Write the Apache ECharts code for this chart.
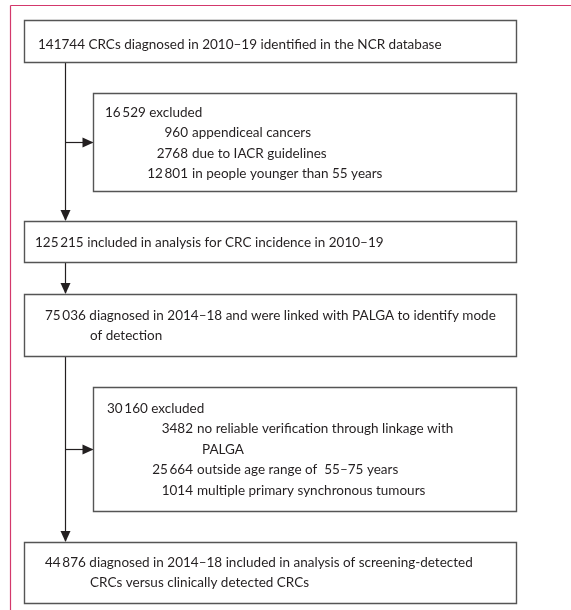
<!DOCTYPE html>
<html>
<head>
<meta charset="utf-8">
<script src="https://cdn.jsdelivr.net/npm/echarts@6/dist/echarts.min.js"></script>
<style>
  html, body { margin: 0; padding: 0; background: #fff; }
  #main { width: 571px; height: 610px; }
</style>
</head>
<body>
<div id="main"></div>
<script>
// flow boxes (main path), one entry per line
const mainSteps = [
  ['141744 CRCs diagnosed in 2010–19 identified in the NCR database'],
  ['125\u2009215 included in analysis for CRC incidence in 2010–19'],
  ['75\u2009036 diagnosed in 2014–18 and were linked with PALGA to identify mode', 'of detection'],
  ['44\u2009876 diagnosed in 2014–18 included in analysis of screening-detected', 'CRCs versus clinically detected CRCs']
];
// exclusion boxes
const excludedTotals = ['16\u2009529 excluded', '30\u2009160 excluded'];
const excludedCounts1 = ['960', '2768', '12\u2009801'];
const excludedReasons1 = [['appendiceal cancers'], ['due to IACR guidelines'], ['in people younger than 55 years']];
const excludedCounts2 = ['3482', '25\u2009664', '1014'];
const excludedReasons2 = [['no reliable verification through linkage with', 'PALGA'], ['outside age range of  55–75 years'], ['multiple primary synchronous tumours']];

const FONT = 'Lato, sans-serif';
const FS = 14;
const SX = 0.965; // narrow the face a bit, the original uses a condensed font
const LH = 20.5;
const INK = '#231f20';
const BOX = '#555555';

// layout
const mainBox = [
  { y: 20, h: 42, tx: 38, ty: 44.5, indent: 0 },
  { y: 221, h: 41, tx: 35, ty: 242, indent: 0 },
  { y: 294, h: 62, tx: 45, ty: 315, indent: 45 },
  { y: 542, h: 61, tx: 45, ty: 562, indent: 45 }
];
const exBox = [
  { y: 93, h: 98, tx: 105, ty: 112, numRight: 188, arrowY: 142, counts: excludedCounts1, reasons: excludedReasons1 },
  { y: 387, h: 124, tx: 107, ty: 408, numRight: 193, arrowY: 449, counts: excludedCounts2, reasons: excludedReasons2 }
];
const BX = 24.5, BW = 492, EX = 93.5, EW = 423, SPINE = 65.5;

const g = [];
function text(x, y, s, align) {
  g.push({ type: 'text', x: x, y: y, scaleX: SX, style: { text: s, fill: INK, font: FS + 'px ' + FONT, textAlign: align || 'left', textVerticalAlign: 'middle' } });
}
function rect(x, y, w, h) {
  g.push({ type: 'rect', shape: { x: x, y: y + 0.5, width: w, height: h }, style: { fill: '#fff', stroke: BOX, lineWidth: 1.4 } });
}
function line(x1, y1, x2, y2, color) {
  g.push({ type: 'line', shape: { x1: x1, y1: y1, x2: x2, y2: y2 }, style: { stroke: color || INK, lineWidth: 1.2 } });
}
function arrowDown(x, y) {
  g.push({ type: 'polygon', shape: { points: [[x - 5, y - 11], [x + 5, y - 11], [x, y]] }, style: { fill: INK } });
}
function arrowRight(x, y) {
  g.push({ type: 'polygon', shape: { points: [[x - 11, y - 5], [x - 11, y + 5], [x, y]] }, style: { fill: INK } });
}

// pink frame
line(10.5, 5.5, 571, 5.5, '#d3386c');
line(10.5, 5.5, 10.5, 610, '#d3386c');

// connectors
for (let i = 0; i < mainBox.length - 1; i++) {
  const a = mainBox[i], b = mainBox[i + 1];
  line(SPINE, a.y + a.h, SPINE, b.y - 1);
  arrowDown(SPINE, b.y);
}
exBox.forEach(function (b) {
  line(SPINE, b.arrowY + 0.5, EX - 1, b.arrowY + 0.5);
  arrowRight(EX, b.arrowY + 0.5);
});

// main boxes
mainSteps.forEach(function (lines, i) {
  const b = mainBox[i];
  rect(BX, b.y, BW, b.h);
  lines.forEach(function (s, j) {
    text(b.tx + (j > 0 ? b.indent : 0), b.ty + j * LH, s);
  });
});

// exclusion boxes
exBox.forEach(function (b, i) {
  rect(EX, b.y, EW, b.h);
  text(b.tx, b.ty, excludedTotals[i]);
  let row = 1;
  b.counts.forEach(function (c, k) {
    text(b.numRight, b.ty + row * LH, c, 'right');
    b.reasons[k].forEach(function (s, j) {
      text(b.numRight + 4 + (j > 0 ? 5 : 0), b.ty + (row + j) * LH, s);
    });
    row += b.reasons[k].length;
  });
});

const chart = echarts.init(document.getElementById('main'), null, { renderer: 'canvas' });
chart.setOption({ backgroundColor: '#fff', graphic: { elements: g } });
</script>
</body>
</html>
